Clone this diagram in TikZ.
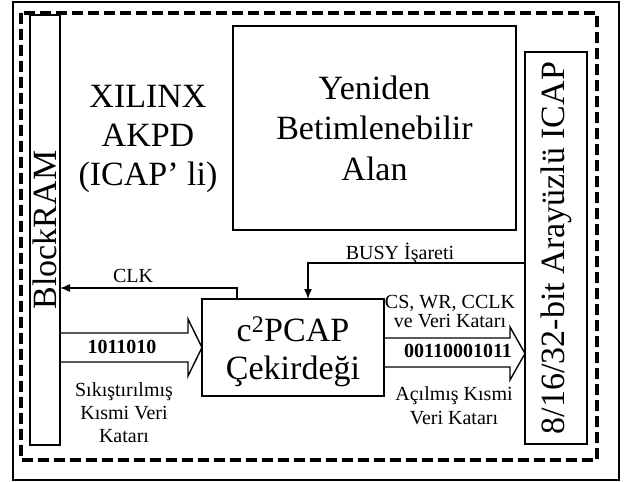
\documentclass[tikz,border=0pt]{standalone}
\usepackage{fontspec}
\setmainfont{Liberation Serif}
\usetikzlibrary{arrows.meta}
\begin{document}
\begin{tikzpicture}[x=1pt,y=-1pt,
  box/.style={draw, line width=1.4pt, inner sep=0pt, outer sep=0pt},
  big/.style={font=\fontsize{34}{39}\selectfont, inner sep=0pt, align=center},
  small/.style={font=\fontsize{20}{23}\selectfont, inner sep=0pt, align=center},
  smallb/.style={font=\fontsize{20}{23}\selectfont\bfseries, inner sep=0pt},
  conn/.style={line width=1.4pt, -{Latex[length=10pt,width=8pt]}},
  fat/.style={line width=1.4pt, line join=miter}]
\useasboundingbox (0,0) rectangle (624,482);
\fill[white] (0,0) rectangle (624,482);
\draw[line width=1.5pt] (13,2) rectangle (619,480);
\draw[line width=4pt, dash pattern=on 11pt off 5pt] (21,13) rectangle (597,460);

% boxes
\node[box, minimum width=30pt, minimum height=430pt] (bram) at (45,230) {};
\node[big, rotate=90] (bramtxt) at (bram.center) {BlockRAM};
\node[box, minimum width=62pt, minimum height=392pt] (icap) at (556,248) {};
\node[big, rotate=90] (icaptxt) at (icap.center) {8/16/32-bit Arayüzlü ICAP};
\node[box, minimum width=283pt, minimum height=204pt, font=\fontsize{34}{40.5}\selectfont, align=center] (recon) at (374.5,128) {Yeniden\\Betimlenebilir\\Alan};
\node[box, minimum width=182pt, minimum height=97pt] (core) at (293,347.5) {};
\node[big, font=\fontsize{34}{38}\selectfont] (coretxt) at (293,352) {c\textsuperscript{2}PCAP\\Çekirdeği};

\node[big] (xil) at (148,139) {XILINX\\AKPD\\(ICAP’ li)};

% CLK
\coordinate (clk) at (237,288);
\draw[conn] (core.north -| clk) -- (clk) -- (bram.east |- clk);
\node[small, anchor=base] (clktxt) at (133,282) {CLK};

% BUSY
\coordinate (busy) at (308,263);
\draw[conn] (icap.west |- busy) -- (busy) -- (core.north -| busy);
\node[small, anchor=base] (busytxt) at (400,259) {BUSY İşareti};

% left fat arrow
\coordinate (l1) at (188,333);
\coordinate (l2) at (188,319);
\coordinate (l3) at (188,376);
\coordinate (l4) at (188,362);
\draw[fat] (bram.east |- l1) -- (l1) -- (l2) -- (core.west) -- (l3) -- (l4) -- (bram.east |- l4);
\node[smallb, anchor=base] (bits1) at (122,353) {1011010};
\node[small] (sk) at (124,413) {Sıkıştırılmış\\Kısmi Veri\\Katarı};

% right fat arrow
\coordinate (r1) at (510,338);
\coordinate (r2) at (510,327);
\coordinate (r3) at (510,380);
\coordinate (r4) at (510,367);
\coordinate (rt) at (525,353.5);
\draw[fat] (core.east |- r1) -- (r1) -- (r2) -- (icap.west |- rt) -- (r3) -- (r4) -- (core.east |- r4);
\node[smallb, anchor=base] (bits2) at (458,357) {00110001011};
\node[small, font=\fontsize{20}{19}\selectfont] (cs) at (450,312) {CS, WR, CCLK\\ve Veri Katarı};
\node[small, font=\fontsize{20}{24}\selectfont] (ac) at (454,406) {Açılmış Kısmi\\Veri Katarı};
\end{tikzpicture}
\end{document}
